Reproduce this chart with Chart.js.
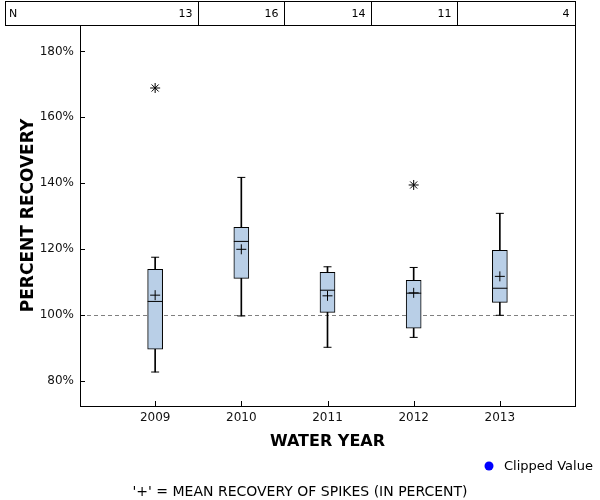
<!DOCTYPE html>
<html lang="en">
<head>
<meta charset="UTF-8">
<title>Percent Recovery by Water Year</title>
<script src="https://cdn.jsdelivr.net/npm/chart.js"></script>
<style>
  * { margin: 0; padding: 0; box-sizing: border-box; }
  body { background: #fff; }
  #chart { display: block; }
</style>
</head>
<body>
<canvas id="chart" width="600" height="500"></canvas>
<script>
// data block
const years = [2009, 2010, 2011, 2012, 2013];
const counts = [13, 16, 14, 11, 4];
const whiskerLow = [82.8, 99.8, 90.3, 93.3, 100.0];
const q1 = [89.7, 111.2, 100.9, 96.1, 103.9];
const median = [104.2, 122.4, 107.6, 106.7, 108.2];
const q3 = [113.9, 126.7, 113.0, 110.6, 119.7];
const whiskerHigh = [117.6, 141.8, 114.7, 114.5, 130.9];
const means = [106.1, 120.0, 105.9, 106.8, 111.8];
const outlierYears = [2009, 2012];
const outlierValues = [168.9, 139.5];
const referenceLine = 100;

const FONT = "'DejaVu Sans', Verdana, sans-serif";
Chart.defaults.font.family = FONT;
Chart.defaults.color = '#000';

// plugin block - N table, frame, inward ticks, 100% line, legend and footnote
const extras = {
  id: 'extras',
  beforeDatasetsDraw(chart) {
    const { ctx, chartArea: { left, right }, scales: { y } } = chart;
    ctx.save();
    // dashed reference line
    const yr = Math.round(y.getPixelForValue(referenceLine)) + 0.5;
    ctx.strokeStyle = '#808080';
    ctx.lineWidth = 1;
    ctx.setLineDash([4, 3]);
    ctx.beginPath();
    ctx.moveTo(left, yr);
    ctx.lineTo(right, yr);
    ctx.stroke();
    ctx.restore();
  },
  afterDraw(chart) {
    const { ctx, chartArea: { left, right, top, bottom }, scales: { x, y } } = chart;
    ctx.save();
    ctx.strokeStyle = '#000';
    ctx.lineWidth = 1;

    // frame round the plot
    ctx.strokeRect(Math.round(left) + 0.5, Math.round(top) + 0.5,
      Math.round(right - left), Math.round(bottom - top));

    // inward tick marks
    ctx.beginPath();
    y.ticks.forEach(t => {
      const py = Math.round(y.getPixelForValue(t.value)) + 0.5;
      ctx.moveTo(left, py);
      ctx.lineTo(left + 5, py);
    });
    x.ticks.forEach(t => {
      const px = Math.round(x.getPixelForValue(t.value)) + 0.5;
      ctx.moveTo(px, bottom);
      ctx.lineTo(px, bottom - 5);
    });
    ctx.stroke();

    // N table
    const tTop = 1, tBot = Math.round(top);
    ctx.strokeRect(5.5, tTop + 0.5, Math.round(right) - 5, tBot - tTop);
    ctx.font = '11px ' + FONT;
    ctx.fillStyle = '#000';
    ctx.textBaseline = 'middle';
    ctx.textAlign = 'left';
    ctx.fillText('N', 9, (tTop + tBot) / 2 + 1);
    ctx.textAlign = 'right';
    years.forEach((yr, i) => {
      const cellRight = i < years.length - 1
        ? Math.round(x.getPixelForValue((yr + years[i + 1]) / 2)) + 0.5
        : Math.round(right) + 0.5;
      if (i < years.length - 1) {
        ctx.beginPath();
        ctx.moveTo(cellRight, tTop);
        ctx.lineTo(cellRight, tBot);
        ctx.stroke();
      }
      ctx.fillText(String(counts[i]), cellRight - 6, (tTop + tBot) / 2 + 1);
    });

    // legend
    ctx.fillStyle = '#0000ff';
    ctx.beginPath();
    ctx.arc(489, 466, 4.5, 0, Math.PI * 2);
    ctx.fill();
    ctx.fillStyle = '#000';
    ctx.font = '13px ' + FONT;
    ctx.textAlign = 'left';
    ctx.fillText('Clipped Value', 504, 467);

    // footnote
    ctx.font = '14px ' + FONT;
    ctx.textAlign = 'center';
    ctx.fillText("'+' = MEAN RECOVERY OF SPIKES (IN PERCENT)", 300, 492);
    ctx.restore();
  }
};

const boxData = years.map((yr, i) => ({ x: yr, y: [q1[i], q3[i]] }));
const whiskerData = years.map((yr, i) => ({ x: yr, y: [whiskerLow[i], whiskerHigh[i]] }));
const capData = years.map((yr, i) => ({ x: yr, y: whiskerLow[i] }))
  .concat(years.map((yr, i) => ({ x: yr, y: whiskerHigh[i] })));
const medianData = years.map((yr, i) => ({ x: yr, y: median[i] }));
const meanData = years.map((yr, i) => ({ x: yr, y: means[i] }));
const outlierData = outlierYears.map((yr, i) => ({ x: yr, y: outlierValues[i] }));

// config block
const config = {
  type: 'bar',
  data: {
    datasets: [
      { type: 'scatter', label: 'Outliers', data: outlierData, pointStyle: 'star',
        radius: 5, borderColor: '#000', borderWidth: 1, order: 1 },
      { type: 'scatter', label: 'Mean', data: meanData, pointStyle: 'cross',
        radius: 5, borderColor: '#000', borderWidth: 1, order: 1 },
      { type: 'scatter', label: 'Median', data: medianData, pointStyle: 'line',
        radius: 7.5, borderColor: '#000', borderWidth: 1, order: 2 },
      { type: 'scatter', label: 'Caps', data: capData, pointStyle: 'line',
        radius: 4, borderColor: '#000', borderWidth: 1, order: 3 },
      { label: 'Box', data: boxData, backgroundColor: '#b9cfe7', borderColor: '#000',
        borderWidth: 1, borderSkipped: false, barThickness: 15, grouped: false, order: 4 },
      { label: 'Whisker', data: whiskerData, backgroundColor: '#000', borderWidth: 0,
        barThickness: 1, grouped: false, order: 5 }
    ]
  },
  options: {
    responsive: false,
    animation: false,
    events: [],
    layout: { padding: { top: 25, right: 25, left: 12, bottom: 44 } },
    plugins: {
      legend: { display: false },
      tooltip: { enabled: false }
    },
    scales: {
      x: {
        type: 'linear',
        offset: false,
        min: 2008.128,
        max: 2013.872,
        grid: { display: false, drawTicks: false, offset: false },
        border: { display: false },
        ticks: {
          stepSize: 1,
          includeBounds: false,
          padding: 5,
          color: '#111',
          font: { size: 12 },
          callback: v => String(v)
        },
        title: {
          display: true,
          text: 'WATER YEAR',
          color: '#000',
          font: { size: 16, weight: 'bold' },
          padding: { top: 0, bottom: 5 }
        },
        afterFit(scale) { scale.height = 50; }
      },
      y: {
        type: 'linear',
        min: 72.5,
        max: 188,
        grid: { display: false, drawTicks: false },
        border: { display: false },
        ticks: {
          stepSize: 20,
          includeBounds: false,
          padding: 6,
          color: '#111',
          font: { size: 12 },
          callback: v => v + '%'
        },
        title: {
          display: true,
          text: 'PERCENT RECOVERY',
          color: '#000',
          font: { size: 17, weight: 'bold' },
          padding: { top: 6, bottom: 4 }
        },
        afterFit(scale) { scale.width = 68; }
      }
    }
  },
  plugins: [extras]
};

// render block
new Chart(document.getElementById('chart'), config);
</script>
</body>
</html>
